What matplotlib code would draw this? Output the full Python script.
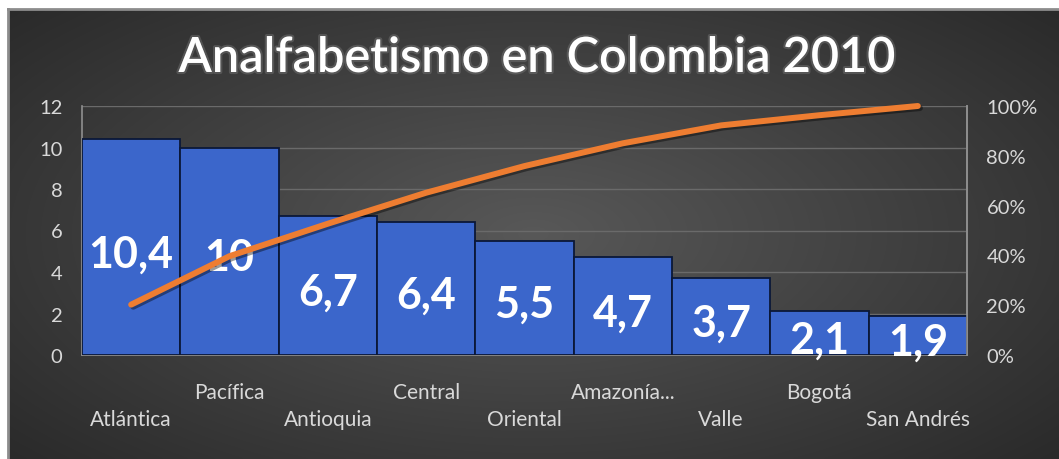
import numpy as np
import matplotlib
matplotlib.use('Agg')
import matplotlib.pyplot as plt
import matplotlib.patheffects as pe
from matplotlib.ticker import FuncFormatter

# Data
regiones = ['Atlántica', 'Pacífica', 'Antioquia', 'Central', 'Oriental',
            'Amazonía...', 'Valle', 'Bogotá', 'San Andrés']
analfabetismo = [10.4, 10, 6.7, 6.4, 5.5, 4.7, 3.7, 2.1, 1.9]
etiquetas = ['10,4', '10', '6,7', '6,4', '5,5', '4,7', '3,7', '2,1', '1,9']
left_ticks = [0, 2, 4, 6, 8, 10, 12]
right_ticks = [0, 0.2, 0.4, 0.6, 0.8, 1.0]

plt.rcParams['font.family'] = ['Lato', 'DejaVu Sans']

W, H = 1059, 460
fig = plt.figure(figsize=(W / 100, H / 100), dpi=100)
fig.patch.set_facecolor('white')

# background with radial gradient
bg = fig.add_axes([8 / W, 0, 1 - 8 / W, 1 - 10 / H])
yy, xx = np.mgrid[-1:1:200j, -1:1:400j]
r = np.sqrt(xx ** 2 + (yy * 0.9) ** 2) / 1.35
r = np.clip(r, 0, 1)
c0, c1 = np.array([0x58, 0x58, 0x58]) / 255, np.array([0x2a, 0x2a, 0x2a]) / 255
img = c0[None, None, :] * (1 - r[..., None]) + c1[None, None, :] * r[..., None]
bg.imshow(img, aspect='auto', extent=[0, 1, 0, 1], interpolation='bilinear')
bg.set_xlim(0, 1)
bg.set_ylim(0, 1)
bg.set_xticks([])
bg.set_yticks([])
for s in ['top', 'left']:
    bg.spines[s].set_color('#8c8c8c')
    bg.spines[s].set_linewidth(2)
for s in ['bottom', 'right']:
    bg.spines[s].set_visible(False)

# title
fig.text(537 / W, 1 - 59 / H, 'Analfabetismo en Colombia 2010', ha='center', va='center',
         fontsize=35, color='white', fontweight='semibold',
         path_effects=[pe.withStroke(linewidth=3, foreground='#8a8a8a', alpha=0.35)])

ax = fig.add_axes([82 / W, (H - 356) / H, (967 - 82) / W, (356 - 107) / H])
ax.patch.set_alpha(0)
x = np.arange(len(regiones))
bars = ax.bar(x, analfabetismo, width=1.0, color='#3b66cb', edgecolor='#0b1838',
              linewidth=1.3, zorder=3)
ax.set_xlim(-0.5, len(regiones) - 0.5)
ax.set_ylim(0, 12)
ax.set_yticks(left_ticks)
ax.yaxis.grid(True, color='#6a6a6a', lw=1, zorder=0)
ax.set_xticks([])
ax.tick_params(axis='y', length=0, colors='#d9d9d9', labelsize=14.5, pad=14)
for s in ['top']:
    ax.spines[s].set_visible(False)
for s in ['left', 'right', 'bottom']:
    ax.spines[s].set_color('#8f8f8f')
    ax.spines[s].set_linewidth(1.2)

# data labels
for xi, v, lab in zip(x, analfabetismo, etiquetas):
    ax.text(xi, v / 2 - 0.3, lab, ha='center', va='center', color='white',
            fontsize=31, fontweight='bold', zorder=5)

# category labels, staggered
for i, name in enumerate(regiones):
    off = -27 if i % 2 == 1 else -46
    ax.annotate(name, xy=(i, 0), xycoords=('data', 'axes fraction'),
                xytext=(0, off), textcoords='offset points', ha='center', va='center',
                color='#d9d9d9', fontsize=15)

# cumulative line
ax2 = ax.twinx()
acum = np.cumsum(analfabetismo) / np.sum(analfabetismo)
ax2.plot(x, acum, color='#ee7d31', lw=4.3, solid_capstyle='round', solid_joinstyle='round',
         clip_on=False, zorder=6,
         path_effects=[pe.SimpleLineShadow(offset=(1.5, -1.5), alpha=0.4), pe.Normal()])
ax2.set_ylim(0, 1)
ax2.set_yticks(right_ticks)
ax2.yaxis.set_major_formatter(FuncFormatter(lambda v, p: '{:d}%'.format(int(round(v * 100)))))
ax2.tick_params(axis='y', length=0, colors='#d9d9d9', labelsize=14.5, pad=14)
for s in ['top', 'left', 'bottom']:
    ax2.spines[s].set_visible(False)
ax2.spines['right'].set_color('#8f8f8f')
ax2.spines['right'].set_linewidth(1.2)

fig.savefig('out.png', dpi=100)
